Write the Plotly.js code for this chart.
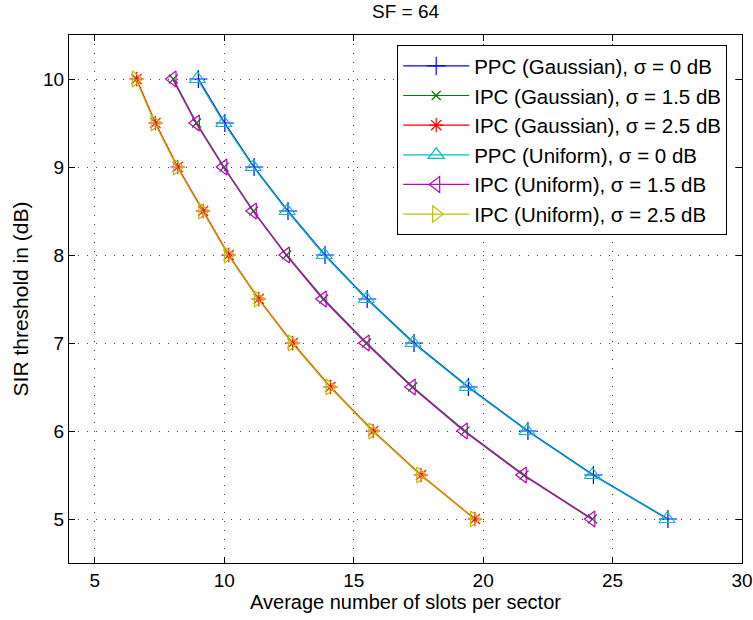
<!DOCTYPE html>
<html><head><meta charset="utf-8">
<script src="https://cdn.plot.ly/plotly-3.0.1.min.js"></script>
<style>body{margin:0;background:#fff}#c{width:753px;height:620px}</style>
</head><body><div id="c"></div>
<script>
const sir = [10, 9.5, 9, 8.5, 8, 7.5, 7, 6.5, 6, 5.5, 5];
const ppcGauss  = [9.00, 10.02, 11.15, 12.46, 13.89, 15.52, 17.33, 19.43, 21.73, 24.26, 27.14];
const ipcGauss15 = [8.03, 8.93, 9.99, 11.13, 12.41, 13.84, 15.50, 17.28, 19.30, 21.58, 24.22];
const ipcGauss25 = [6.61, 7.34, 8.20, 9.18, 10.17, 11.33, 12.64, 14.10, 15.75, 17.60, 19.68];
const ppcUnif   = [8.96, 9.98, 11.12, 12.43, 13.86, 15.49, 17.29, 19.39, 21.69, 24.22, 27.10];
const ipcUnif15 = [8.00, 8.90, 9.96, 11.10, 12.38, 13.80, 15.46, 17.24, 19.25, 21.53, 24.18];
const ipcUnif25 = [6.58, 7.31, 8.17, 9.15, 10.14, 11.30, 12.61, 14.07, 15.72, 17.57, 19.65];
const names = [
  'PPC (Gaussian), σ = 0 dB',
  'IPC (Gaussian), σ = 1.5 dB',
  'IPC (Gaussian), σ = 2.5 dB',
  'PPC (Uniform), σ = 0 dB',
  'IPC (Uniform), σ = 1.5 dB',
  'IPC (Uniform), σ = 2.5 dB'
];
const series = [ppcGauss, ipcGauss15, ipcGauss25, ppcUnif, ipcUnif15, ipcUnif25];
const colors = ['#0000ff', '#008000', '#ff0000', '#00bfbf', '#bf00bf', '#bfbf00'];
const symbols = ['cross-thin-open', 'x-thin-open', 'asterisk-open', 'triangle-up-open', 'triangle-left-open', 'triangle-right-open'];
const sizes = [13, 9, 12, 14, 14, 14];

const traces = series.map((xs, i) => ({
  x: xs, y: sir, name: names[i], type: 'scatter', mode: 'lines+markers',
  line: {color: colors[i], width: 1.2},
  marker: {symbol: symbols[i], size: sizes[i], color: colors[i], line: {color: colors[i], width: 1.2}}
}));

const font = 'Arial, "Liberation Sans", Helvetica, sans-serif';
const grid = {showgrid: true, gridcolor: '#444', griddash: '1px,8px', gridwidth: 1};
const layout = {
  width: 753, height: 620,
  margin: {l: 69, r: 11, t: 35, b: 57},
  paper_bgcolor: '#fff', plot_bgcolor: '#fff',
  font: {family: font, size: 19, color: '#000'},
  title: {text: 'SF = 64', font: {family: font, size: 19, color: '#000'}, x: 0.5, xref: 'paper', y: 0.981, yanchor: 'middle'},
  xaxis: Object.assign({
    range: [4, 30], tickvals: [5, 10, 15, 20, 25, 30],
    showline: true, linecolor: '#000', linewidth: 1, mirror: 'ticks',
    ticks: 'inside', ticklen: 6, tickcolor: '#000',
    zeroline: false, tickfont: {size: 19},
    title: {text: 'Average number of slots per sector', font: {size: 20}, standoff: 2}
  }, grid),
  yaxis: Object.assign({
    range: [4.5, 10.5], tickvals: [5, 6, 7, 8, 9, 10],
    showline: true, linecolor: '#000', linewidth: 1, mirror: 'ticks',
    ticks: 'inside', ticklen: 6, tickcolor: '#000',
    zeroline: false, tickfont: {size: 19},
    title: {text: 'SIR threshold in (dB)', font: {size: 21}, standoff: 8}
  }, grid),
  legend: {
    x: 0.978, xanchor: 'right', y: 0.981, yanchor: 'top',
    bgcolor: '#fff', bordercolor: '#000', borderwidth: 1,
    font: {size: 20.5}, tracegroupgap: 0, itemwidth: 66
  },
  showlegend: true
};
Plotly.newPlot('c', traces, layout, {displayModeBar: false, staticPlot: true});
</script>
</body></html>
